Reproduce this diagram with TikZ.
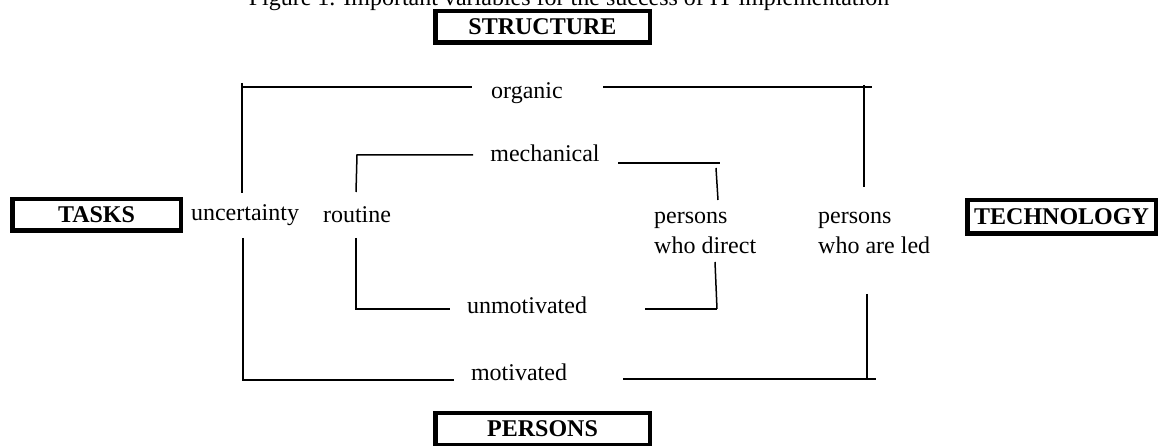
\documentclass[tikz,border=0pt]{standalone}
\usepackage{fontspec}
\setmainfont{Liberation Serif}
\begin{document}
\begin{tikzpicture}[x=1pt,y=-1pt,
  lbl/.style={font=\fontsize{24}{30}\selectfont, inner sep=0pt},
  hdr/.style={draw, line width=4.5pt, font=\fontsize{24}{30}\selectfont\bfseries, inner sep=0pt, minimum height=31.5pt},
  ln/.style={line width=1.5pt}]
\useasboundingbox (0,0) rectangle (1160,446);

% title (cut by the page top)
\node[lbl, anchor=base] (title) at (569,6) {Figure 1. Important variables for the success of IT implementation};

% header boxes
\node[hdr, minimum width=214.5pt] (structure) at (542.5,27) {STRUCTURE};
\node[hdr, minimum width=214.5pt] (persons) at (542.5,429) {PERSONS};
\node[hdr, minimum width=168.5pt] (tasks) at (96.5,215) {TASKS};
\node[hdr, minimum width=188.5pt, minimum height=33.5pt] (technology) at (1061.5,217) {TECHNOLOGY};

% labels
\node[lbl] (organic) at (527,93) {organic};
\node[lbl] (mechanical) at (545,153) {mechanical};
\node[lbl] (uncertainty) at (245,215) {uncertainty};
\node[lbl] (routine) at (357,215) {routine};
\node[lbl, anchor=west, align=left] (direct) at (654,233) {persons\\who direct};
\node[lbl, anchor=west, align=left] (led) at (818,233) {persons\\who are led};
\node[lbl] (unmotivated) at (527,305) {unmotivated};
\node[lbl] (motivated) at (519,372) {motivated};

% outer frame coordinates
\coordinate (oTLt) at (242,83);
\coordinate (oTL) at (242,87);
\coordinate (oTa) at (472,87);
\coordinate (oTb) at (603,87);
\coordinate (oTR) at (872,87);
\coordinate (oRt) at (864,85);
\coordinate (oRb) at (864,187);
\coordinate (oLa) at (242,193);
\coordinate (oLb) at (243,238);
\coordinate (oBL) at (243,380);
\coordinate (oBa) at (454,380);
\coordinate (oBb) at (623,379);
\coordinate (oBR) at (876,379);
\coordinate (oR2t) at (867,294);
\coordinate (oR2b) at (867,379);

% inner frame coordinates
\coordinate (iTL) at (357,155);
\coordinate (iTa) at (473,155);
\coordinate (iLa) at (356,192);
\coordinate (iLb) at (356,238);
\coordinate (iBL) at (356,309);
\coordinate (iBa) at (450,309);
\coordinate (iTb) at (618,163);
\coordinate (iTR) at (720,163);
\coordinate (iRt) at (716,168);
\coordinate (iRb) at (718,200);
\coordinate (iR2t) at (715,262);
\coordinate (iR2b) at (717,309);
\coordinate (iBb) at (645,309);

% outer frame
\draw[ln] (oTLt) -- (oLa);
\draw[ln] (oTL) -- (oTa);
\draw[ln] (oTb) -- (oTR);
\draw[ln] (oRt) -- (oRb);
\draw[ln] (oLb) -- (oBL) -- (oBa);
\draw[ln] (oBb) -- (oBR);
\draw[ln] (oR2t) -- (oR2b);

% inner frame
\draw[ln] (iLa) -- (iTL) -- (iTa);
\draw[ln] (iLb) -- (iBL) -- (iBa);
\draw[ln] (iTb) -- (iTR);
\draw[ln] (iRt) -- (iRb);
\draw[ln] (iR2t) -- (iR2b);
\draw[ln] (iBb) -- (iR2b);
\end{tikzpicture}
\end{document}
